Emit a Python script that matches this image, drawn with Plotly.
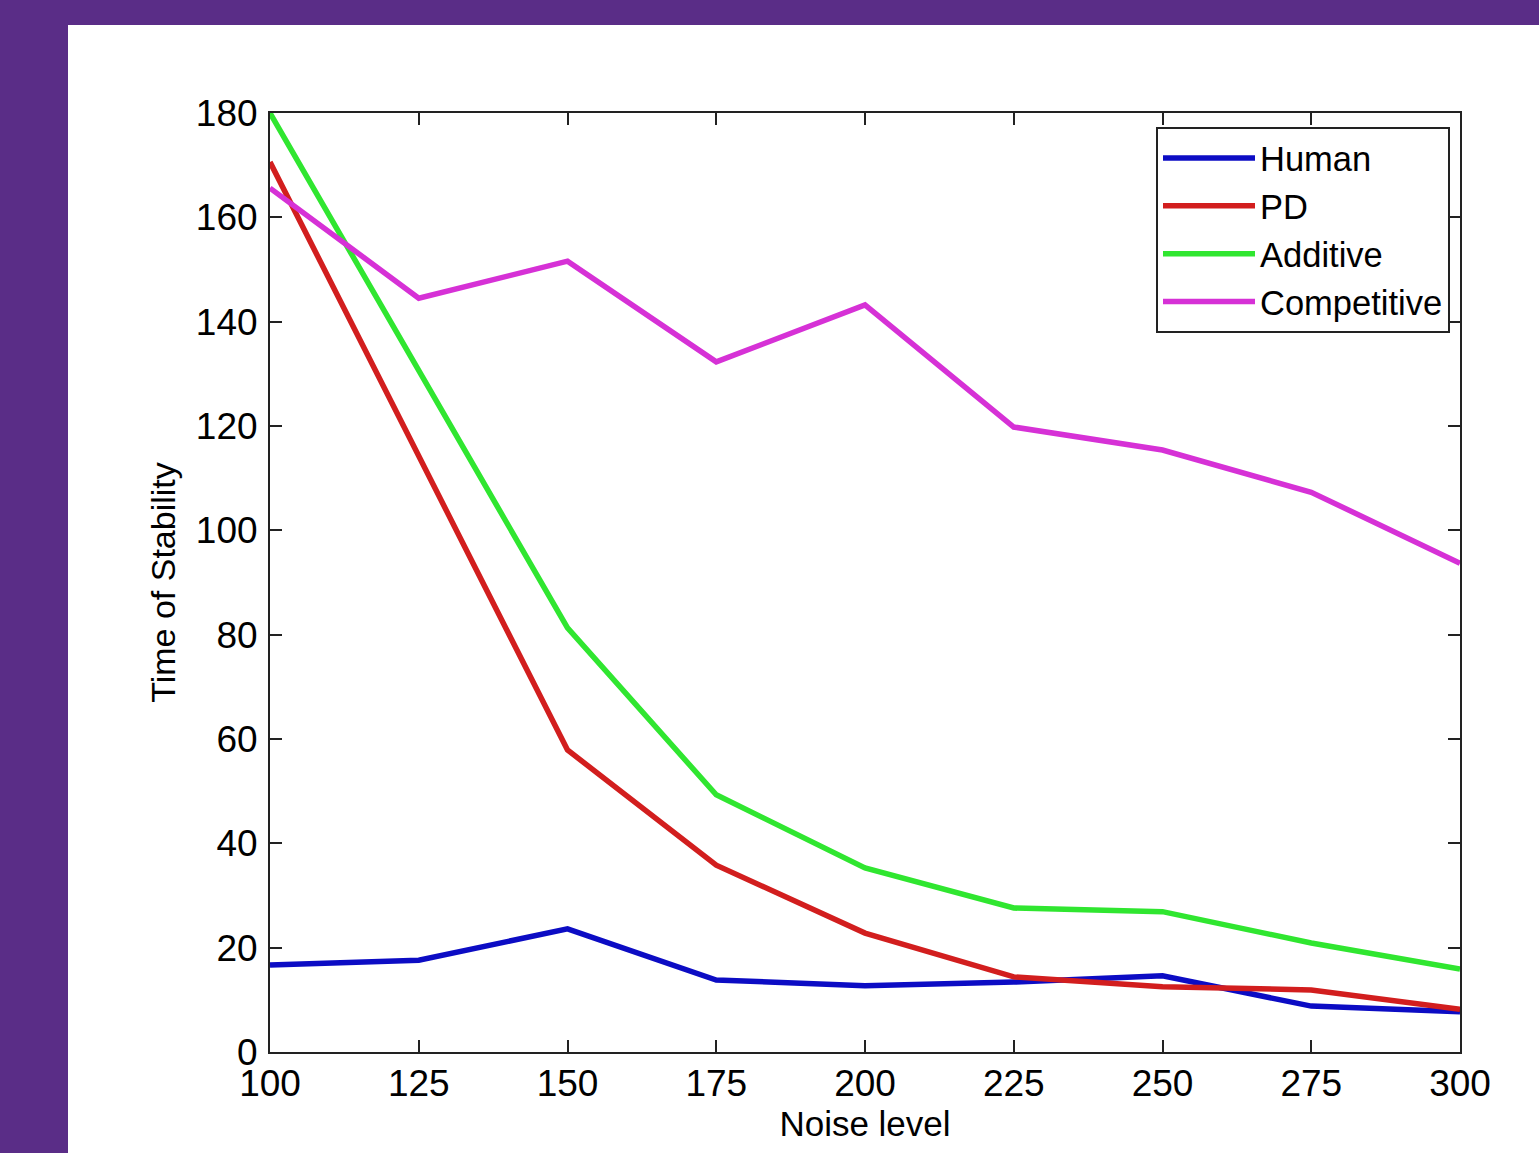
import plotly.graph_objects as go

noise = [100, 125, 150, 175, 200, 225, 250, 275, 300]
human = [16.7, 17.6, 23.6, 13.8, 12.7, 13.4, 14.6, 8.8, 7.7]
pd_ctrl = [170.6, 114.4, 57.9, 35.8, 22.8, 14.4, 12.5, 11.9, 8.2]
additive = [180.0, 130.7, 81.3, 49.3, 35.3, 27.6, 26.9, 20.9, 15.9]
competitive = [165.6, 144.5, 151.6, 132.3, 143.2, 119.8, 115.4, 107.3, 93.7]

series = [
    ("Human", human, "#0c0cc4"),
    ("PD", pd_ctrl, "#d21e1e"),
    ("Additive", additive, "#30e630"),
    ("Competitive", competitive, "#d631d6"),
]

x_ticks = [100, 125, 150, 175, 200, 225, 250, 275, 300]
y_ticks = [0, 20, 40, 60, 80, 100, 120, 140, 160, 180]

FONT = "Liberation Sans, Arial, sans-serif"

fig = go.Figure()
for name, vals, color in series:
    fig.add_trace(go.Scatter(x=noise, y=vals, mode="lines", name=name,
                             line=dict(color=color, width=5.5)))

W, H = 1539, 1153
L, R, T, B = 270, 79, 113, 101
pw, ph = W - L - R, H - T - B

def px_to_paper_x(px):
    return (px - L) / pw

def px_to_paper_y(py):
    return (H - B - py) / ph

fig.add_shape(type="rect", xref="paper", yref="paper",
              x0=px_to_paper_x(68), x1=px_to_paper_x(W + 5),
              y0=px_to_paper_y(H + 5), y1=px_to_paper_y(25),
              fillcolor="white", line=dict(width=0), layer="below")

axis_common = dict(showgrid=False, zeroline=False, showline=True, linecolor="#222222",
                   linewidth=2, mirror="ticks", ticks="inside", ticklen=12,
                   tickwidth=2, tickcolor="#222222",
                   tickfont=dict(family=FONT, size=37, color="black"))

fig.update_xaxes(range=[100, 300], tickvals=x_ticks, ticktext=[str(v) for v in x_ticks],
                 title=dict(text="Noise level", font=dict(family=FONT, size=35, color="black"),
                            standoff=0),
                 ticklabelstandoff=-2, **axis_common)
fig.update_yaxes(range=[0, 180], tickvals=y_ticks, ticktext=[str(v) for v in y_ticks],
                 title=dict(text="Time of Stability", font=dict(family=FONT, size=34, color="black"),
                            standoff=10),
                 ticklabelstandoff=3, **axis_common)

fig.update_layout(
    width=W, height=H,
    margin=dict(l=L, r=R, t=T, b=B, pad=0),
    paper_bgcolor="#5a2d87",
    plot_bgcolor="white",
    font=dict(family=FONT, size=35, color="black"),
    legend=dict(x=px_to_paper_x(1450), y=px_to_paper_y(127), xanchor="right", yanchor="top",
                bgcolor="white", bordercolor="#222222", borderwidth=2,
                font=dict(family=FONT, size=34.5, color="black"),
                itemwidth=92, tracegroupgap=0),
    showlegend=True,
)

fig.write_html("out.html")
